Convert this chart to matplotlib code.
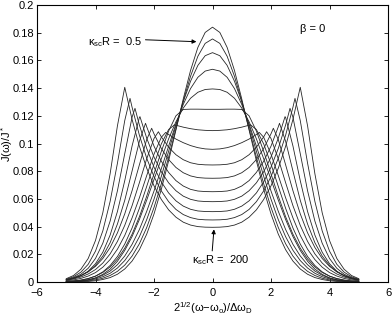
import numpy as np
import matplotlib.pyplot as plt

plt.rcParams['font.family'] = ['Liberation Sans', 'DejaVu Sans']
plt.rcParams['mathtext.fontset'] = 'custom'
plt.rcParams['mathtext.rm'] = 'Liberation Sans'
plt.rcParams['mathtext.it'] = 'Liberation Sans:italic'

# half profiles, curves are symmetric about 0
u_half = [0, 0.25, 0.5, 0.75, 1.0, 1.25, 1.5, 1.75, 2.0, 2.25, 2.5,
          2.75, 3.0, 3.25, 3.5, 3.75, 4.0, 4.25, 4.5, 4.75, 5.0]

# kappa_sc R = 0.5 (top) ... 200 (bottom)
j00 = [0.184, 0.1802, 0.1694, 0.1528, 0.1322, 0.1098, 0.0875, 0.0669, 0.0491, 0.0345, 0.0233, 0.0151, 0.0094, 0.0056, 0.0032, 0.0018, 0.0009, 0.0004, 0.0002, 0.0001, 0.0]
j01 = [0.1755, 0.1723, 0.1630, 0.1486, 0.1306, 0.1105, 0.0902, 0.0709, 0.0538, 0.0393, 0.0276, 0.0187, 0.0122, 0.0077, 0.0047, 0.0027, 0.0015, 0.0008, 0.0004, 0.0002, 0.0001]
j02 = [0.1656, 0.1634, 0.1564, 0.1450, 0.1302, 0.1129, 0.0944, 0.0763, 0.0598, 0.0450, 0.0327, 0.0229, 0.0155, 0.0101, 0.0063, 0.0038, 0.0022, 0.0012, 0.0007, 0.0003, 0.0002]
j03 = [0.1536, 0.1523, 0.1478, 0.1397, 0.1282, 0.1141, 0.0981, 0.0818, 0.0657, 0.0510, 0.0379, 0.0272, 0.0188, 0.0125, 0.0079, 0.0049, 0.0028, 0.0016, 0.0009, 0.0005, 0.0002]
j04 = [0.1394, 0.1390, 0.1370, 0.1327, 0.1256, 0.1157, 0.1034, 0.0890, 0.0740, 0.0591, 0.0451, 0.0328, 0.0228, 0.0150, 0.0093, 0.0055, 0.0030, 0.0016, 0.0008, 0.0004, 0.0002]
j05 = [0.1247, 0.1247, 0.1248, 0.1248, 0.1246, 0.1200, 0.1090, 0.0943, 0.0781, 0.0619, 0.0471, 0.0345, 0.0244, 0.0166, 0.0109, 0.0069, 0.0042, 0.0025, 0.0014, 0.0008, 0.0004]
j06 = [0.1093, 0.1095, 0.1099, 0.1107, 0.1118, 0.1132, 0.1101, 0.0997, 0.0851, 0.0690, 0.0532, 0.0390, 0.0274, 0.0184, 0.0119, 0.0073, 0.0043, 0.0024, 0.0013, 0.0007, 0.0004]
j07 = [0.0958, 0.0961, 0.0970, 0.0985, 0.1006, 0.1032, 0.1065, 0.1045, 0.0923, 0.0768, 0.0608, 0.0463, 0.0336, 0.0237, 0.0162, 0.0107, 0.0068, 0.0043, 0.0026, 0.0015, 0.0009]
j08 = [0.0845, 0.0846, 0.0850, 0.0861, 0.0883, 0.0919, 0.0973, 0.1048, 0.1036, 0.0889, 0.0717, 0.0551, 0.0409, 0.0293, 0.0203, 0.0137, 0.0090, 0.0058, 0.0036, 0.0022, 0.0013]
j09 = [0.0749, 0.0750, 0.0754, 0.0766, 0.0789, 0.0827, 0.0884, 0.0964, 0.1070, 0.1028, 0.0846, 0.0659, 0.0492, 0.0355, 0.0249, 0.0170, 0.0113, 0.0074, 0.0047, 0.0030, 0.0018]
j10 = [0.0652, 0.0653, 0.0657, 0.0669, 0.0693, 0.0732, 0.0791, 0.0872, 0.0981, 0.1121, 0.1016, 0.0801, 0.0590, 0.0419, 0.0284, 0.0187, 0.0120, 0.0074, 0.0045, 0.0027, 0.0015]
j11 = [0.0580, 0.0581, 0.0585, 0.0597, 0.0620, 0.0659, 0.0716, 0.0796, 0.0902, 0.1039, 0.1188, 0.0982, 0.0732, 0.0509, 0.0339, 0.0215, 0.0132, 0.0078, 0.0045, 0.0025, 0.0014]
j12 = [0.0508, 0.0509, 0.0513, 0.0525, 0.0548, 0.0586, 0.0643, 0.0723, 0.0829, 0.0965, 0.1134, 0.1190, 0.0927, 0.0659, 0.0440, 0.0280, 0.0170, 0.0099, 0.0056, 0.0031, 0.0016]
j13 = [0.0448, 0.0449, 0.0453, 0.0465, 0.0487, 0.0524, 0.0580, 0.0658, 0.0761, 0.0894, 0.1060, 0.1262, 0.1166, 0.0858, 0.0582, 0.0369, 0.0223, 0.0128, 0.0071, 0.0038, 0.0020]
j14 = [0.0395, 0.0396, 0.0400, 0.0411, 0.0432, 0.0468, 0.0521, 0.0596, 0.0694, 0.0822, 0.0980, 0.1174, 0.1406, 0.1128, 0.0782, 0.0500, 0.0300, 0.0170, 0.0092, 0.0047, 0.0024]

curves = [j00, j01, j02, j03, j04, j05, j06, j07, j08, j09, j10, j11, j12, j13, j14]

# side maxima of the split curves (position, height), None = no side peak
peak_u = [None, None, None, None, None, None, 1.3, 1.6, 1.85, 2.08, 2.29, 2.48, 2.65, 2.82, 3.0]
peak_j = [None, None, None, None, None, None, 0.1135, 0.108, 0.1085, 0.111, 0.1146, 0.1194, 0.1254, 0.1326, 0.1406]

fig = plt.figure(figsize=(3.92, 3.17), dpi=100)
ax = fig.add_axes([0.0944, 0.1104, 0.8954, 0.8738])

for k, jh in enumerate(curves):
    uh = list(u_half)
    vh = list(jh)
    if peak_u[k] is not None and peak_u[k] not in uh:
        i = np.searchsorted(uh, peak_u[k])
        uh.insert(i, peak_u[k])
        vh.insert(i, peak_j[k])
    uh = np.array(uh)
    vh = np.array(vh)
    u = np.concatenate([-uh[::-1], uh[1:]])
    v = np.concatenate([vh[::-1], vh[1:]])
    ax.plot(u, v, color='0.15', lw=0.6)

ax.set_xlim(-6, 6)
ax.set_ylim(0, 0.2)
ax.set_xticks([-6, -4, -2, 0, 2, 4, 6])
ax.set_xticklabels(['\u22126', '\u22124', '\u22122', '0', '2', '4', '6'])
ax.set_yticks([0, 0.02, 0.04, 0.06, 0.08, 0.1, 0.12, 0.14, 0.16, 0.18, 0.2])
ax.set_yticklabels(['0', '0.02', '0.04', '0.06', '0.08', '0.1', '0.12', '0.14', '0.16', '0.18', '0.2'])
ax.tick_params(direction='in', top=True, right=True, labelsize=8, length=3, width=0.6)
ax.tick_params(axis='x', pad=4)
ax.tick_params(axis='y', pad=2)
for s in ax.spines.values():
    s.set_linewidth(0.8)

ax.set_ylabel('J(\u03c9)/J$^*$', fontsize=8, va='center')
ax.yaxis.set_label_coords(-0.085, 0.5)
ax.set_xlabel('2$^{1/2}$(\u03c9\u2212\u03c9$_{\\rm o}$)/\u0394\u03c9$_{\\rm D}$', fontsize=8, va='bottom')
ax.xaxis.set_label_coords(0.5, -0.122)

ax.text(3.0, 0.183, '\u03b2 = 0', fontsize=8, va='center')

ax.annotate('\u03ba$_{\\rm sc}$R =  0.5', xy=(-0.55, 0.1735), xytext=(-4.25, 0.168),
            fontsize=8, va='bottom',
            arrowprops=dict(arrowstyle='-|>', color='k', lw=0.7, mutation_scale=6,
                            shrinkA=0, shrinkB=0, relpos=(1.0, 0.7)))
ax.annotate('\u03ba$_{\\rm sc}$R =  200', xy=(0.05, 0.038), xytext=(-0.7, 0.0105),
            fontsize=8, va='bottom',
            arrowprops=dict(arrowstyle='-|>', color='k', lw=0.7, mutation_scale=6,
                            shrinkA=0, shrinkB=0, relpos=(0.35, 1.2)))

fig.savefig('out.png', dpi=100)
